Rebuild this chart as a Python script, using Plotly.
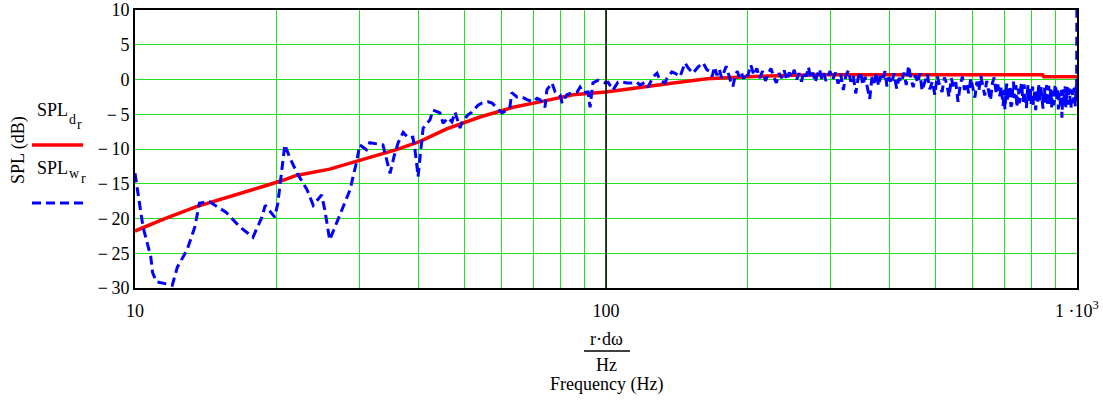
import plotly.graph_objects as go

# ---- data ----
freq_d = [10, 11.5, 13.5, 15.9, 18.7, 20.6, 22.0, 25.9, 29.5, 35.9, 40.3, 45.9, 54, 63.5, 75, 85,
          100, 118, 139, 164, 199, 250, 300, 400, 500, 600, 700, 800, 845, 850, 900, 1000]
spl_d = [-21.8, -20.1, -18.3, -16.9, -15.4, -14.5, -13.8, -12.9, -11.8, -10.1, -8.9, -7.1, -5.4, -4.0, -3.0, -2.2,
         -1.8, -1.1, -0.5, 0.1, 0.4, 0.6, 0.7, 0.7, 0.7, 0.7, 0.7, 0.7, 0.7, 0.4, 0.4, 0.4]

freq_w_low = [10.0, 10.4, 10.8, 10.9, 11.1, 11.5, 12.0, 12.3, 12.9, 13.4, 13.7, 14.4, 15.6, 16.7, 17.8,
              18.6, 18.9, 19.8, 20.1, 20.5, 20.8, 21.3, 22.1, 23.2, 23.9, 24.9, 25.3, 25.9, 26.8, 28.6,
              29.6, 30.0, 31.0, 31.5, 33.6, 34.8, 35.5, 36.2, 37.1, 38.0, 38.9, 39.3, 39.7, 39.9, 40.5,
              40.9, 42.3, 42.9, 44.4, 45.1, 46.2, 47.1, 47.8, 48.3, 49.0, 49.5, 50.9, 51.9, 53.5, 54.5,
              56.2, 57.3, 58.7, 60.1, 61.7, 62.5, 63.1, 64.7, 66.3, 67.9, 70.0, 71.4, 72.4, 74.2, 74.9,
              76.8, 78.0, 79.9, 80.7, 82.6, 84.7, 86.8, 88.1, 89.4, 91.6, 92.5, 93.8, 96.2, 99.5, 101,
              103.5, 106, 108.6, 110.8, 113.6, 116.4, 118, 121, 122.8, 125.9, 128.3, 130.2, 133.4, 134.8,
              138, 140.2, 143.6, 147.2, 149.3, 153, 156.8, 160.7, 163.8]
spl_w_low = [-13.5, -21.2, -25.5, -27.8, -29.1, -29.3, -29.6, -27.0, -24.5, -21.2, -17.8, -17.6, -19.1, -21.2, -22.7,
             -19.8, -18.1, -19.8, -17.8, -13.0, -9.4, -11.2, -13.5, -15.9, -18.1, -16.6, -18.8, -23.1, -20.6, -15.9,
             -11.6, -9.4, -10.1, -9.1, -9.4, -13.5, -11.0, -9.1, -7.6, -8.4, -8.3, -10.1, -12.6, -14.0, -9.7,
             -7.0, -5.8, -4.4, -4.8, -6.3, -5.5, -6.1, -4.7, -5.8, -7.0, -6.1, -5.1, -4.7, -3.7, -3.4,
             -3.2, -3.4, -4.1, -4.8, -4.4, -4.0, -1.9, -2.5, -2.5, -2.9, -3.2, -2.7, -2.9, -4.0, -1.5,
             -0.5, -1.8, -2.2, -3.4, -2.2, -1.9, -1.8, -1.1, -1.9, -1.8, -4.0, -0.5, -0.1, -0.5, -0.4,
             -1.5, -0.4, -0.4, -0.5, -0.5, -0.4, -0.8, -0.4, -1.1, 0.4, 0.9, -0.1, -0.5, 0.2,
             1.1, 0.9, 0.4, 2.4, 1.7, 0.9, 1.8, 2.4, 1.4]

freq_w_mid = [166, 168, 170, 172, 174, 176, 178, 180, 182, 184, 186, 188, 190, 192, 194, 196, 198, 200,
              203, 206, 209, 212, 215, 218, 221, 224, 227, 230, 233, 236, 239, 242, 245, 248, 251, 254,
              257, 260, 263, 266, 269, 272, 275, 278, 281, 284, 287, 290, 293, 296, 299,
              303, 307, 311, 315, 319, 323, 327, 331, 335, 339, 343, 347, 351, 355, 359, 363, 367, 371,
              375, 379, 383, 387, 391, 395, 399, 404, 409, 414, 419, 424, 429, 434, 439, 444, 449, 454,
              459, 464, 469,
              475, 481, 487, 493, 499, 505, 511, 517, 523, 529, 535, 541, 547, 553, 559, 565, 571, 577,
              583, 589, 595, 601, 607, 613, 619, 625, 631, 637, 643, 649, 655, 661, 667, 673, 679, 685]
spl_w_mid = [1.2, 0.4, 1.8, 0.6, 1.5, 0.2, 1.0, 1.9, 0.8, -0.3, -1.0, 0.5, 1.2, 0.3, 0.9, 0.1, 1.0, 0.5,
             2.1, 0.6, 1.6, 0.2, 1.2, -0.2, 0.8, 1.6, 0.4, -0.5, 0.9, 0.2, 1.3, -0.1, 1.0, 0.3, 1.4, 0.0,
             0.9, -0.3, 1.1, 0.4, 1.8, 0.2, 1.0, -0.4, 0.7, 1.5, 0.1, 0.9, -0.2, 0.6, 1.2,
             0.0, 1.0, -0.6, 0.8, -1.5, 0.5, 1.3, -0.3, 0.6, -2.0, 0.2, 1.1, -0.8, 0.4, -1.2, -2.8, 0.3, -0.5,
             1.0, -0.9, 0.5, -0.2, 1.2, -1.0, 0.3, -0.6, 0.9, -1.3, 0.2, -0.4, 1.0, -0.8, 2.0, 0.1, -1.1, 0.6,
             -0.5, 0.9, -1.6,
             -0.2, 0.8, -1.4, -0.3, -2.2, 0.5, -0.9, -1.8, 0.3, -0.6, -2.5, 0.2, -1.2, -0.4, -3.2, -0.8, 0.4, -1.5,
             -0.5, -2.0, 0.2, -1.1, -2.6, -0.3, -1.6, 0.5, -0.9, -2.3, -0.2, -1.4, -3.0, -0.6, 0.3, -1.8, -0.7, -2.4]

freq_w_high = [691, 694, 697, 700, 703, 706, 709, 712, 715, 718, 721, 724, 727, 730, 733, 736, 739, 742,
               745, 748, 751, 754, 757, 760, 763, 766, 769, 772, 775, 778, 781, 784, 787, 790, 793, 796,
               799, 802, 805, 808, 811, 814, 817, 820, 823, 826, 829, 832, 835, 838, 841, 844, 847, 850,
               853, 856, 859, 862, 865, 868, 871, 874, 877, 880, 883, 886, 889, 892, 895, 898, 901, 904,
               907, 910, 913, 916, 919, 922, 925, 927, 929, 932, 935, 938, 941, 944, 947, 950, 953, 956,
               959, 962, 965, 968, 971, 974, 977, 980, 983, 986, 989, 992, 995, 998, 1000]
spl_w_high = [-1.0, -2.6, -3.8, -1.5, -4.3, -2.2, -0.6, -3.1, -2.5, -0.9, -1.2, -3.9, -3.6, -1.6, -0.3, -2.7, -2.0, -0.8,
              -4.0, -2.1, -1.3, -3.4, -2.8, -1.1, -0.5, -2.3, -3.2, -0.7, -1.8, -3.0, -4.1, -2.0, -0.8, -3.3, -2.4, -1.2,
              -3.5, -2.2, -1.0, -3.7, -2.9, -1.4, -4.4, -2.6, -1.5, -3.2, -0.6, -2.1, -3.0, -1.1, -2.0, -3.6, -4.2, -1.8,
              -1.2, -3.3, -2.7, -0.8, -3.8, -2.0, -0.9, -3.5, -2.2, -1.3, -4.0, -2.5, -1.6, -3.7, -3.1, -1.0, -0.7, -3.0,
              -2.6, -1.2, -4.3, -2.4, -1.9, -3.6, -3.3, -1.5, -5.5, -2.9, -1.4, -3.9, -2.8, -1.0, -4.0, -2.4, -1.1, -3.6,
              -3.0, -1.3, -2.0, -3.8, -4.2, -1.7, -1.5, -3.1, -3.4, -1.2, -2.3, -3.9, -1.0, -3.0, 15.0]

y_ticks = [-30, -25, -20, -15, -10, -5, 0, 5, 10]
y_tick_text = ["\u2212\u200930", "\u2212\u200925", "\u2212\u200920", "\u2212\u200915", "\u2212\u200910",
               "\u2212\u20095", "0", "5", "10"]
x_ticks = [10, 100, 1000]
x_tick_text = ["10", "100", "1 \u00b710<sup>3</sup>"]

FONT = "Liberation Serif"
GRID = "#22e022"

fig = go.Figure()
fig.add_trace(go.Scatter(x=freq_d, y=spl_d, mode="lines",
                         line=dict(color="#ff0000", width=3.5), showlegend=False))
fig.add_trace(go.Scatter(x=freq_w_low + freq_w_mid + freq_w_high, y=spl_w_low + spl_w_mid + spl_w_high,
                         mode="lines", line=dict(color="#0000ff", width=3, dash="9px,5px"), showlegend=False))

fig.update_layout(
    width=1103, height=400,
    margin=dict(l=135, r=26, t=10, b=112, autoexpand=False),
    paper_bgcolor="white", plot_bgcolor="white",
    font=dict(family=FONT, size=18, color="black"),
    xaxis=dict(type="log", range=[1, 3], tickvals=x_ticks, ticktext=x_tick_text,
               showgrid=True, gridcolor=GRID, gridwidth=1, automargin=False,
               minor=dict(showgrid=True, gridcolor=GRID, gridwidth=1,
                          tickvals=[20, 30, 40, 50, 60, 70, 80, 90, 200, 300, 400, 500, 600, 700, 800, 900]),
               showline=True, linecolor="black", linewidth=2, mirror=True, ticklabelstandoff=5,
               ticks="", tickfont=dict(family=FONT, size=18), zeroline=False),
    yaxis=dict(range=[-30, 10], tickvals=y_ticks, ticktext=y_tick_text,
               showgrid=True, gridcolor=GRID, gridwidth=1, automargin=False,
               showline=True, linecolor="black", linewidth=2, mirror=True,
               ticks="", tickfont=dict(family=FONT, size=18), zeroline=False),
)

# black vertical grid line at 100 Hz (middle of the log range)
fig.add_shape(type="line", xref="paper", yref="paper", x0=0.5, x1=0.5, y0=0, y1=1,
              line=dict(color="black", width=1.5))

def px_x(px):
    return (px - 135) / 942.0

def px_y(py):
    return (288 - py) / 278.0

AF = dict(family=FONT, size=18, color="black")
SF = dict(family=FONT, size=14, color="black")

# y-axis title
fig.add_annotation(text="SPL (dB)", xref="paper", yref="paper", x=px_x(18), y=px_y(150),
                   textangle=-90, showarrow=False, font=AF, xanchor="center", yanchor="middle")

# legend drawn Mathcad-style: label above line sample
fig.add_annotation(text="SPL", xref="paper", yref="paper", x=px_x(35), y=px_y(122),
                   xanchor="left", yanchor="bottom", showarrow=False, font=AF)
fig.add_annotation(text="d", xref="paper", yref="paper", x=px_x(67), y=px_y(129),
                   xanchor="left", yanchor="bottom", showarrow=False, font=SF)
fig.add_annotation(text="r", xref="paper", yref="paper", x=px_x(75), y=px_y(134),
                   xanchor="left", yanchor="bottom", showarrow=False, font=SF)
fig.add_shape(type="line", xref="paper", yref="paper", x0=px_x(32), x1=px_x(83), y0=px_y(145), y1=px_y(145),
              line=dict(color="#ff0000", width=3.5))

fig.add_annotation(text="SPL", xref="paper", yref="paper", x=px_x(35), y=px_y(180),
                   xanchor="left", yanchor="bottom", showarrow=False, font=AF)
fig.add_annotation(text="w", xref="paper", yref="paper", x=px_x(67), y=px_y(183),
                   xanchor="left", yanchor="bottom", showarrow=False, font=SF)
fig.add_annotation(text="r", xref="paper", yref="paper", x=px_x(79), y=px_y(188),
                   xanchor="left", yanchor="bottom", showarrow=False, font=SF)
fig.add_shape(type="line", xref="paper", yref="paper", x0=px_x(32), x1=px_x(83), y0=px_y(203), y1=px_y(203),
              line=dict(color="#0000ff", width=3, dash="9px,5px"))

# x-axis title: fraction r·dω / Hz, then Frequency (Hz)
fig.add_annotation(text="r\u00b7d\u03c9", xref="paper", yref="paper", x=0.5, y=px_y(339),
                   xanchor="center", yanchor="middle", showarrow=False, font=AF)
fig.add_shape(type="line", xref="paper", yref="paper", x0=px_x(584), x1=px_x(630), y0=px_y(351), y1=px_y(351),
              line=dict(color="black", width=1.5))
fig.add_annotation(text="Hz", xref="paper", yref="paper", x=0.5, y=px_y(365),
                   xanchor="center", yanchor="middle", showarrow=False, font=AF)
fig.add_annotation(text="Frequency (Hz)", xref="paper", yref="paper", x=0.5, y=px_y(384),
                   xanchor="center", yanchor="middle", showarrow=False, font=AF)

fig.write_html("out.html")
